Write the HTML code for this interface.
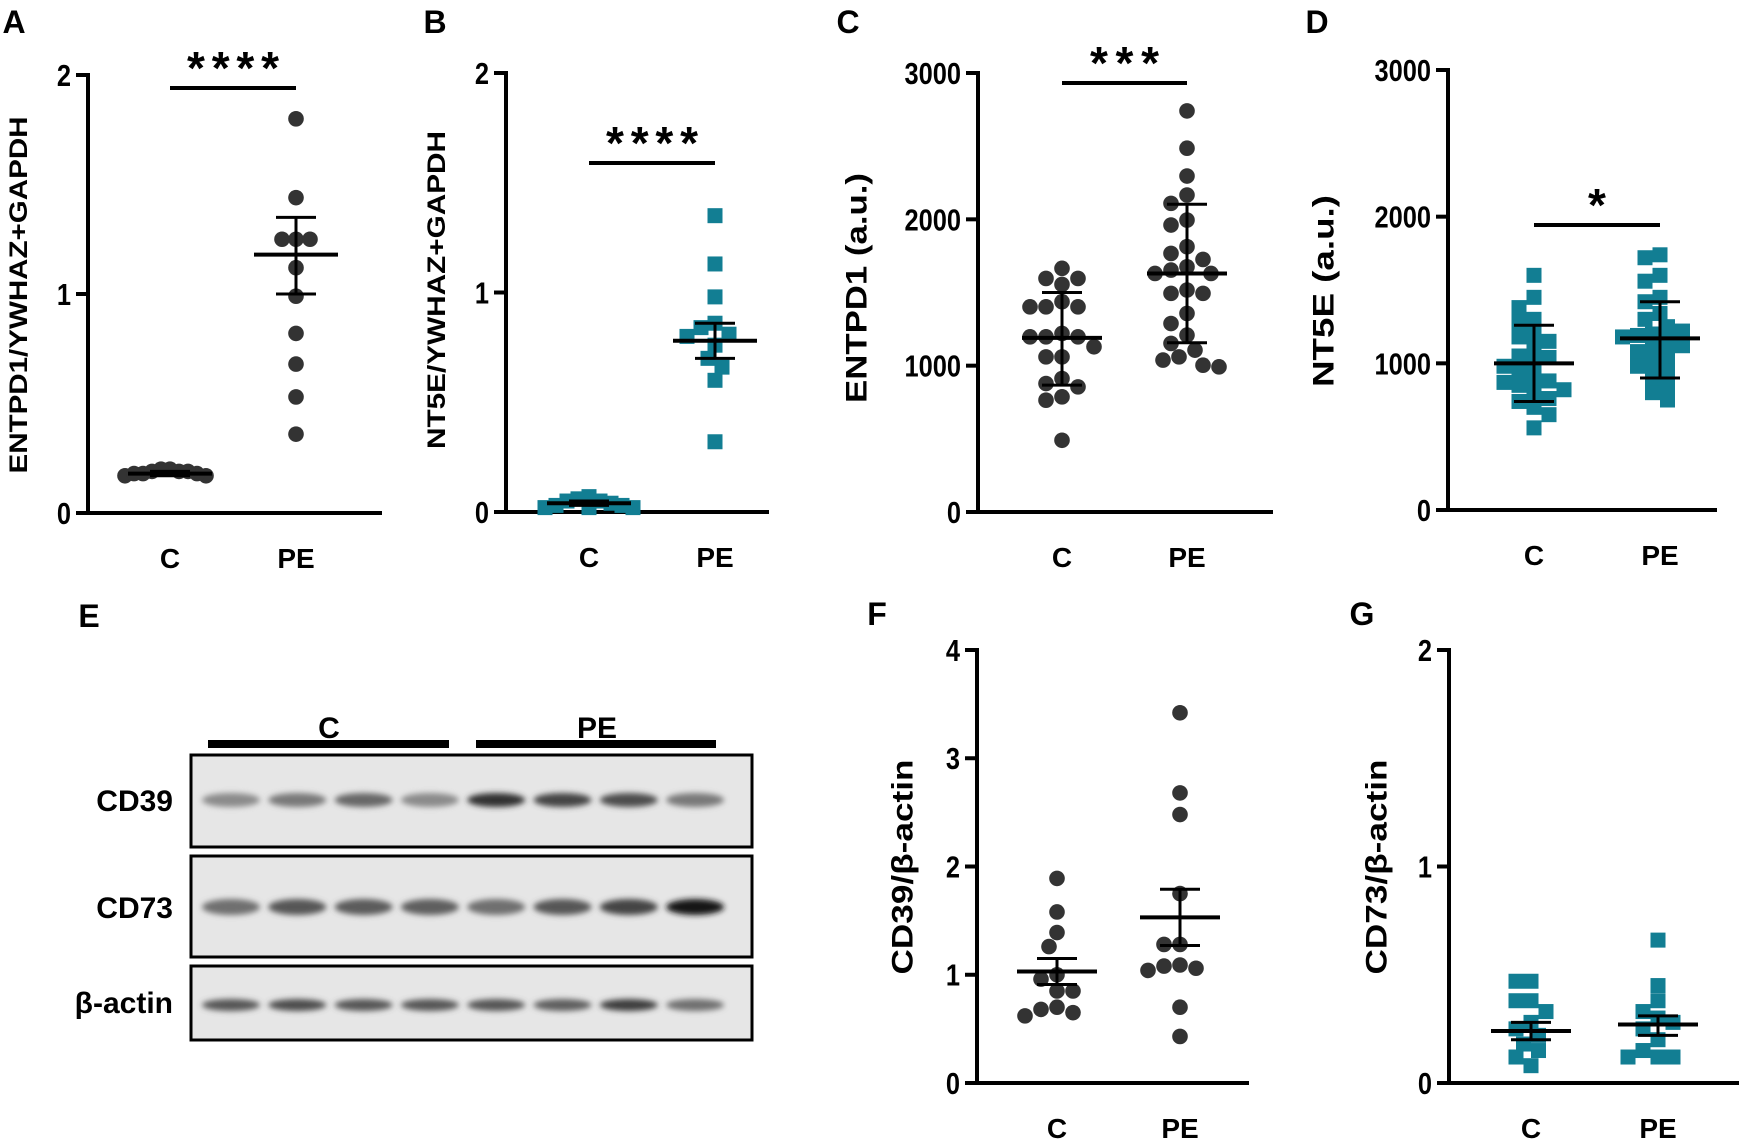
<!DOCTYPE html>
<html><head><meta charset="utf-8">
<style>
html,body{margin:0;padding:0;background:#fff;}
svg{display:block;font-family:"Liberation Sans",sans-serif;}
.lbl{font-weight:bold;fill:#000;}
</style></head>
<body>
<svg id="fig" width="1748" height="1139" viewBox="0 0 1748 1139">
<defs>
<filter id="blur" x="-30%" y="-80%" width="160%" height="260%"><feGaussianBlur stdDeviation="3"/></filter>
</defs>
<g id="blot">
  <text class="lbl" x="89" y="627" font-size="32" text-anchor="middle">E</text>
  <rect x="208" y="740" width="241" height="8" fill="#000"/>
  <rect x="476" y="740" width="240" height="8" fill="#000"/>
  <text class="lbl" x="329" y="738" font-size="30" text-anchor="middle">C</text>
  <text class="lbl" x="597" y="738" font-size="30" text-anchor="middle">PE</text>
  <rect x="191" y="755" width="561" height="92" fill="#e6e6e6" stroke="#000" stroke-width="3"/>
  <rect x="191" y="856" width="561" height="101" fill="#e6e6e6" stroke="#000" stroke-width="3"/>
  <rect x="191" y="966" width="561" height="74" fill="#e6e6e6" stroke="#000" stroke-width="3"/>
  <text class="lbl" x="173" y="811" font-size="30" text-anchor="end">CD39</text>
  <text class="lbl" x="173" y="918" font-size="30" text-anchor="end">CD73</text>
  <text class="lbl" x="173" y="1013" font-size="30" text-anchor="end">β-actin</text>
  <g id="bands"></g>
</g>
<g id="charts"></g>
</svg>
<script>
// ---- Western blot band intensities ----
const laneCount = 8;
const cd39Intensity = [0.35,0.45,0.55,0.35,0.85,0.75,0.7,0.45];
const cd73Intensity = [0.5,0.65,0.62,0.6,0.5,0.65,0.75,1.0];
const actinIntensity = [0.65,0.7,0.65,0.65,0.65,0.6,0.8,0.5];

// ---- Panel A ----
const catsA = ["C","PE"];
const valsA_C = [0.17,0.19,0.20,0.18,0.19,0.17,0.18,0.19,0.18,0.20];
const valsA_PE = [1.80,1.44,1.25,1.25,1.25,1.12,0.99,0.82,0.68,0.53,0.36];
const meanA = [0.18,1.18], loA = [0.17,1.00], hiA = [0.19,1.35];
const ticksA = [0,1,2];
// ---- Panel B ----
const catsB = ["C","PE"];
const valsB_C = [0.02,0.03,0.05,0.06,0.02,0.04,0.03,0.07,0.02,0.05];
const valsB_PE = [1.35,1.13,0.98,0.86,0.84,0.81,0.80,0.76,0.70,0.66,0.60,0.32];
const meanB = [0.04,0.78], loB = [0.03,0.70], hiB = [0.05,0.86];
const ticksB = [0,1,2];
// ---- Panel C ----
const catsC = ["C","PE"];
const valsC_C = [1665,1596,1596,1555,1402,1437,1402,1402,1197,1197,1220,1197,1129,1060,1060,878,855,912,764,787,490];
const valsC_PE = [2741,2486,2296,2166,2109,1961,1995,1813,1767,1726,1676,1653,1630,1630,1494,1494,1517,1357,1288,1209,1152,1106,1060,1038,1003,992];
const meanC = [1190,1630], loC = [867,1157], hiC = [1500,2103];
const ticksC = [0,1000,2000,3000];
// ---- Panel D ----
const catsD = ["C","PE"];
const valsD_C = [1600,1450,1380,1300,1280,1200,1180,1150,1100,1050,1040,1000,980,950,900,880,870,850,820,800,760,740,700,650,560];
const valsD_PE = [1740,1720,1600,1560,1450,1420,1340,1300,1250,1220,1200,1190,1180,1150,1120,1100,1080,1050,1000,980,950,900,850,800,750];
const meanD = [1000,1170], loD = [740,900], hiD = [1260,1420];
const ticksD = [0,1000,2000,3000];
// ---- Panel F ----
const catsF = ["C","PE"];
const valsF_C = [1.89,1.58,1.39,1.26,1.0,0.96,0.85,0.85,0.70,0.62,0.65,0.68];
const valsF_PE = [3.42,2.68,2.48,1.75,1.28,1.28,1.06,1.09,1.04,1.08,0.70,0.43];
const meanF = [1.03,1.53], loF = [0.91,1.27], hiF = [1.15,1.79];
const ticksF = [0,1,2,3,4];
// ---- Panel G ----
const catsG = ["C","PE"];
const valsG_C = [0.47,0.47,0.38,0.38,0.33,0.28,0.25,0.22,0.18,0.15,0.12,0.08];
const valsG_PE = [0.66,0.45,0.38,0.33,0.30,0.28,0.25,0.20,0.15,0.12,0.12,0.12];
const meanG = [0.24,0.27], loG = [0.20,0.22], hiG = [0.28,0.31];
const ticksG = [0,1,2];

const NS = "http://www.w3.org/2000/svg";
function mk(parent, tag, attrs, text){
  const e = document.createElementNS(NS, tag);
  for (const k in attrs) e.setAttribute(k, attrs[k]);
  if (text !== undefined) e.textContent = text;
  parent.appendChild(e);
  return e;
}

// Bands
const bandsG = document.getElementById('bands');
function drawBands(vals, cy, h, name){
  for (let i=0;i<laneCount;i++){
    const cx = 231 + i*66.3;
    const v = vals[i];
    const g = 200 - Math.round(v*175);
    const b = mk(bandsG,'ellipse',{cx:cx, cy:cy, rx:29, ry:h/2, fill:`rgb(${g},${g},${g})`, filter:'url(#blur)'});
    
    
  }
}
drawBands(cd39Intensity, 800, 14, 'cd39');
drawBands(cd73Intensity, 907, 16, 'cd73');
drawBands(actinIntensity, 1005, 12, 'beta-actin');

const charts = document.getElementById('charts');

function beeswarm(vals, yfn, cx, d){
  const idx = vals.map((v,i)=>i).sort((a,b)=>vals[b]-vals[a]);
  const placed = [];
  const out = new Array(vals.length);
  idx.forEach(i=>{
    const y = yfn(vals[i]);
    const cands=[0];
    for(let k=1;k<14;k++){cands.push(-k*d*0.5, k*d*0.5);}
    let best = 0;
    for (const off of cands){
      let ok = true;
      for (const p of placed){
        const dx = p.x-off, dy = p.y-y;
        if (dx*dx+dy*dy < d*d*0.9){ok=false;break;}
      }
      if (ok){best=off;break;}
    }
    placed.push({x:best,y:y});
    out[i] = {x:cx+best, y:y};
  });
  return out;
}

function panel(cfg){
  const g = mk(charts,'g',{});
  
  
  const yS = v => cfg.y0 - (v/cfg.max)*(cfg.y0-cfg.ytop);
  const L = mk(g,'text',{class:'lbl',x:cfg.letter[0],y:cfg.letter[1],'font-size':32,'text-anchor':'middle'}, cfg.id.toUpperCase());
  
  
  const ya = mk(g,'line',{x1:cfg.ax,y1:cfg.ytop-2,x2:cfg.ax,y2:cfg.y0+2,stroke:'#000','stroke-width':4});
  
  
  const xa = mk(g,'line',{x1:cfg.ax-2,y1:cfg.y0,x2:cfg.xEnd,y2:cfg.y0,stroke:'#000','stroke-width':4});
  
  
  cfg.ticks.forEach(t=>{
    const y = yS(t);
    mk(g,'line',{x1:cfg.ax-12,y1:y,x2:cfg.ax,y2:y,stroke:'#000','stroke-width':4});
    const tx = cfg.ax-17;
    const tl = mk(g,'text',{class:'lbl',x:tx,y:y+11,'font-size':31,'text-anchor':'end',transform:`translate(${tx},0) scale(0.82,1) translate(${-tx},0)`}, String(t));
    
    
  });
  const yt = mk(g,'text',{class:'lbl',x:0,y:0,'font-size':cfg.titleSize,'text-anchor':'middle',textLength:cfg.title[3],lengthAdjust:'spacingAndGlyphs',transform:`translate(${cfg.title[1]},${cfg.title[2]}) rotate(-90)`,dy:'0.35em'}, cfg.title[0]);
  
  
  cfg.cats.forEach((c,i)=>{
    const xl = mk(g,'text',{class:'lbl',x:cfg.catX[i],y:cfg.y0+55,'font-size':28,'text-anchor':'middle'}, c);
    
    
  });
  cfg.series.forEach((vals,si)=>{
    const d = (cfg.dszC && si===0) ? cfg.dszC : cfg.dsz;
    const pts = beeswarm(vals, yS, cfg.catX[si], d);
    pts.forEach(p=>{
      let m;
      if (cfg.square){
        m = mk(g,'rect',{x:p.x-7.5,y:p.y-7.5,width:15,height:15,fill:'#127e93'});
      } else {
        m = mk(g,'circle',{cx:p.x,cy:p.y,r:7.8,fill:'#333'});
      }
      
      
    });
  });
  cfg.cats.forEach((c,i)=>{
    const x = cfg.catX[i];
    const mm = mk(g,'line',{x1:x-cfg.mw,y1:yS(cfg.mean[i]),x2:x+cfg.mw,y2:yS(cfg.mean[i]),stroke:'#000','stroke-width':4});
    
    
    const eb = mk(g,'line',{x1:x,y1:yS(cfg.hi[i]),x2:x,y2:yS(cfg.lo[i]),stroke:'#000','stroke-width':3});
    
    
    [cfg.hi[i],cfg.lo[i]].forEach(v=>{
      mk(g,'line',{x1:x-cfg.cw,y1:yS(v),x2:x+cfg.cw,y2:yS(v),stroke:'#000','stroke-width':3});
    });
  });
  if (cfg.sig){
    const sb = mk(g,'line',{x1:cfg.catX[0],y1:cfg.sig[0],x2:cfg.catX[1],y2:cfg.sig[0],stroke:'#000','stroke-width':4});
    
    
    const n = cfg.sig[1].length;
    const st = mk(g,'text',{class:'lbl',x:(cfg.catX[0]+cfg.catX[1])/2,y:cfg.sig[0]-4,'font-size':46,'text-anchor':'middle',textLength:n*23,lengthAdjust:'spacing'}, cfg.sig[1]);
    
    
  }
}

panel({id:'a',letter:[14,33],ax:88,y0:513,ytop:75,max:2,ticks:ticksA,xEnd:382,catX:[170,296],cats:catsA,
  series:[valsA_C,valsA_PE],mean:meanA,lo:loA,hi:hiA,square:false,dsz:14,dszC:9,mw:42,cw:20,
  title:["ENTPD1/YWHAZ+GAPDH",18,295,357],titleSize:25,sig:[88,"****"]});
panel({id:'b',letter:[435,33],ax:506,y0:512,ytop:73,max:2,ticks:ticksB,xEnd:769,catX:[589,715],cats:catsB,
  series:[valsB_C,valsB_PE],mean:meanB,lo:loB,hi:hiB,square:true,dsz:14,dszC:11,mw:42,cw:20,
  title:["NT5E/YWHAZ+GAPDH",436,290,318],titleSize:25,sig:[163,"****"]});
panel({id:'c',letter:[848,33],ax:978,y0:512,ytop:73,max:3000,ticks:ticksC,xEnd:1273,catX:[1062,1187],cats:catsC,
  series:[valsC_C,valsC_PE],mean:meanC,lo:loC,hi:hiC,square:false,dsz:16,mw:40,cw:20,
  title:["ENTPD1 (a.u.)",856,288,230],titleSize:30,sig:[83,"***"]});
panel({id:'d',letter:[1317,33],ax:1448,y0:510,ytop:70,max:3000,ticks:ticksD,xEnd:1717,catX:[1534,1660],cats:catsD,
  series:[valsD_C,valsD_PE],mean:meanD,lo:loD,hi:hiD,square:true,dsz:15,mw:40,cw:20,
  title:["NT5E (a.u.)",1323,291,192],titleSize:30,sig:[225,"*"]});
panel({id:'f',letter:[877,625],ax:977,y0:1083,ytop:650,max:4,ticks:ticksF,xEnd:1249,catX:[1057,1180],cats:catsF,
  series:[valsF_C,valsF_PE],mean:meanF,lo:loF,hi:hiF,square:false,dsz:16,mw:40,cw:20,
  title:["CD39/β-actin",902,867,215],titleSize:30,sig:null});
panel({id:'g',letter:[1362,625],ax:1449,y0:1083,ytop:650,max:2,ticks:ticksG,xEnd:1739,catX:[1531,1658],cats:catsG,
  series:[valsG_C,valsG_PE],mean:meanG,lo:loG,hi:hiG,square:true,dsz:15,mw:40,cw:20,
  title:["CD73/β-actin",1376,867,215],titleSize:30,sig:null});
</script>
</body></html>
